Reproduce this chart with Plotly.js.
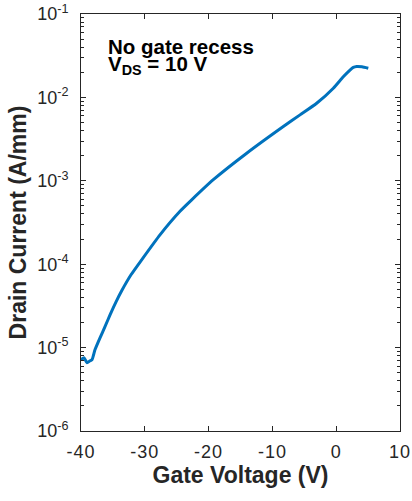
<!DOCTYPE html>
<html>
<head>
<meta charset="utf-8">
<script src="https://cdn.plot.ly/plotly-3.0.1.min.js"></script>
<style>
  html, body { margin: 0; padding: 0; background: #fff; }
  #chart { width: 412px; height: 501px; }
  .xtick text { letter-spacing: 1px; }
</style>
</head>
<body>
<div id="chart"></div>
<script>
// Gate voltage (V) and drain current (A/mm)
const gateVoltage = [-40.0, -39.53, -39.06, -38.59, -38.28, -37.81, -37.02, -36.24, -35.45, -34.51, -33.62, -32.16, -30.49, -27.62, -24.48, -22.65, -19.26, -14.03, -8.29, -5.67, -3.06, -0.45, 1.11, 2.16, 2.68, 3.21, 4.04, 5.03];
const drainCurrent = [7.15e-6, 7.55e-6, 6.58e-6, 6.95e-6, 7.15e-6, 9.42e-6, 1.31e-5, 1.78e-5, 2.47e-5, 3.54e-5, 4.80e-5, 7.46e-5, 1.13e-4, 2.25e-4, 4.31e-4, 5.91e-4, 1.03e-3, 2.14e-3, 4.47e-3, 6.17e-3, 8.51e-3, 1.29e-2, 1.77e-2, 2.13e-2, 2.29e-2, 2.35e-2, 2.33e-2, 2.24e-2];

const xTickVals = [-40, -30, -20, -10, 0, 10];
const xTickText = ['-40', '-30', '-20', '-10', '0', '10'];
const yTickVals = [1e-6, 1e-5, 1e-4, 1e-3, 1e-2, 1e-1];
const yTickText = ['10<sup>-6</sup>', '10<sup>-5</sup>', '10<sup>-4</sup>', '10<sup>-3</sup>', '10<sup>-2</sup>', '10<sup>-1</sup>'];

const yMinorVals = [];
for (let e = -6; e < -1; e++) {
  for (let m = 2; m <= 9; m++) yMinorVals.push(m * Math.pow(10, e));
}

const axisColor = '#262626';
const fontFam = 'Liberation Sans, Arial, Helvetica, sans-serif';

const trace = {
  x: gateVoltage,
  y: drainCurrent,
  type: 'scatter',
  mode: 'lines',
  line: { color: '#0072BD', width: 3, shape: 'spline', smoothing: 0.5 },
  hoverinfo: 'skip'
};

// invisible trace that only carries the minor-tick axis
const minorCarrier = { x: [-40], y: [1e-6], type: 'scatter', mode: 'none', yaxis: 'y2', hoverinfo: 'skip', showlegend: false };

const layout = {
  width: 412,
  height: 501,
  margin: { l: 81, r: 12, t: 14, b: 70 },
  paper_bgcolor: '#ffffff',
  plot_bgcolor: '#ffffff',
  showlegend: false,
  font: { family: fontFam, color: axisColor },
  xaxis: {
    range: [-40, 10],
    tickmode: 'array',
    tickvals: xTickVals,
    ticktext: xTickText,
    ticks: 'inside',
    ticklen: 5,
    tickwidth: 1,
    tickcolor: axisColor,
    showline: true,
    linecolor: axisColor,
    linewidth: 1,
    mirror: 'ticks',
    showgrid: false,
    zeroline: false,
    ticklabelstandoff: 4,
    tickfont: { family: fontFam, size: 18, color: axisColor },
    title: { text: 'Gate Voltage (V)', font: { family: fontFam, size: 23, weight: 'bold', color: axisColor }, standoff: 6 }
  },
  yaxis: {
    type: 'log',
    range: [-6, -1],
    tickmode: 'array',
    tickvals: yTickVals,
    ticktext: yTickText,
    ticks: 'inside',
    ticklen: 5,
    tickwidth: 1,
    tickcolor: axisColor,
    showline: true,
    linecolor: axisColor,
    linewidth: 1,
    mirror: 'ticks',
    showgrid: false,
    zeroline: false,
    ticklabelstandoff: 8,
    tickfont: { family: fontFam, size: 18, color: axisColor },
    title: { text: 'Drain Current (A/mm)', font: { family: fontFam, size: 23, weight: 'bold', color: axisColor }, standoff: 4 }
  },
  yaxis2: {
    type: 'log',
    range: [-6, -1],
    overlaying: 'y',
    anchor: 'x',
    side: 'left',
    tickmode: 'array',
    tickvals: yMinorVals,
    showticklabels: false,
    ticks: 'inside',
    ticklen: 3,
    tickwidth: 1,
    tickcolor: axisColor,
    showline: true,
    linecolor: axisColor,
    linewidth: 1,
    mirror: 'ticks',
    showgrid: false,
    zeroline: false
  },
  annotations: [
    {
      xref: 'paper', yref: 'paper', x: 0.083, y: 0.952, xanchor: 'left', yanchor: 'top',
      text: 'No gate recess', showarrow: false, borderpad: 0,
      font: { family: fontFam, size: 20.5, weight: 'bold', color: '#000000' }
    },
    {
      xref: 'paper', yref: 'paper', x: 0.083, y: 0.912, xanchor: 'left', yanchor: 'top',
      text: 'V<sub>DS</sub> = 10 V', showarrow: false, borderpad: 0,
      font: { family: fontFam, size: 20.5, weight: 'bold', color: '#000000' }
    }
  ]
};

Plotly.newPlot('chart', [trace, minorCarrier], layout, { staticPlot: true, displayModeBar: false });
</script>
</body>
</html>
